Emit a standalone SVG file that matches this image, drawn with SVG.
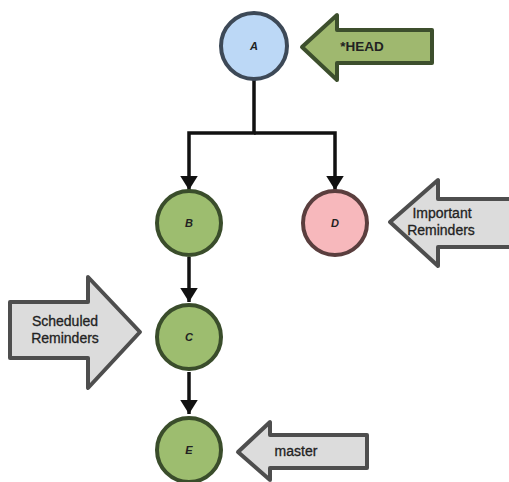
<svg xmlns="http://www.w3.org/2000/svg" width="509" height="482" viewBox="0 0 509 482">
<style>
.lbl{font-family:"Liberation Sans",Arial,sans-serif;font-weight:bold;font-style:italic;font-size:11px;fill:#222;text-anchor:middle;dominant-baseline:central}
.txt{font-family:"Liberation Sans",Arial,sans-serif;font-size:14px;fill:#222;text-anchor:middle;dominant-baseline:central;stroke:#222;stroke-width:0.3}
.green{fill:#9dbd6f;stroke:#3a4d2b;stroke-width:4}
.gray{fill:#dcdcdc;stroke:#4e4e4e;stroke-width:4;stroke-linejoin:round}
.conn{fill:none;stroke:#111;stroke-width:3.5}
</style>
<defs>
<marker id="ah" markerWidth="5" markerHeight="5" refX="4" refY="2.5" orient="auto" markerUnits="strokeWidth">
<path d="M0,0 L4,2.5 L0,5 Z" fill="#111"/>
</marker>
</defs>
<rect width="509" height="482" fill="#fff"/>
<g id="connectors">
<path class="conn" d="M254,80 V133 H189 V190" marker-end="url(#ah)"/>
<path class="conn" d="M254,133 H335 V190" marker-end="url(#ah)"/>
<path class="conn" d="M189,257 V302" marker-end="url(#ah)"/>
<path class="conn" d="M189,372 V414" marker-end="url(#ah)"/>
</g>
<g id="A"><circle cx="254" cy="46" r="33" fill="#bcd8f6" stroke="#3d4957" stroke-width="4"/><text class="lbl" x="254" y="46">A</text></g>
<g id="B"><circle class="green" cx="189" cy="223" r="32"/><text class="lbl" x="189" y="223">B</text></g>
<g id="D"><circle cx="335" cy="223" r="32" fill="#f7b8bc" stroke="#5a3e3e" stroke-width="4"/><text class="lbl" x="335" y="223">D</text></g>
<g id="C"><circle class="green" cx="189" cy="337" r="32"/><text class="lbl" x="189" y="337">C</text></g>
<g id="E"><circle class="green" cx="189" cy="450" r="32"/><text class="lbl" x="189" y="450">E</text></g>
<g id="head"><path d="M302,47 L337,15 L337,30 L432,30 L432,63 L337,63 L337,80 Z" fill="#9fb86f" stroke="#3d4f2d" stroke-width="4" stroke-linejoin="round"/><text x="362" y="46" style="font-family:'Liberation Sans',Arial,sans-serif;font-weight:bold;font-size:13.5px;fill:#222;text-anchor:middle;dominant-baseline:central">*HEAD</text></g>
<g id="important"><path class="gray" d="M390,222 L438,180 L438,199 L512,199 L512,247 L438,247 L438,266 Z"/><text class="txt" x="442" y="213">Important</text><text class="txt" x="441" y="230">Reminders</text></g>
<g id="scheduled"><path class="gray" d="M10,302 L88,302 L88,277 L140,332 L88,388 L88,358 L10,358 Z"/><text class="txt" x="65" y="321">Scheduled</text><text class="txt" x="65" y="338">Reminders</text></g>
<g id="master"><path class="gray" d="M238,452 L270,422 L270,435 L367,435 L367,468 L270,468 L270,480 Z"/><text class="txt" x="296" y="451">master</text></g>
</svg>
